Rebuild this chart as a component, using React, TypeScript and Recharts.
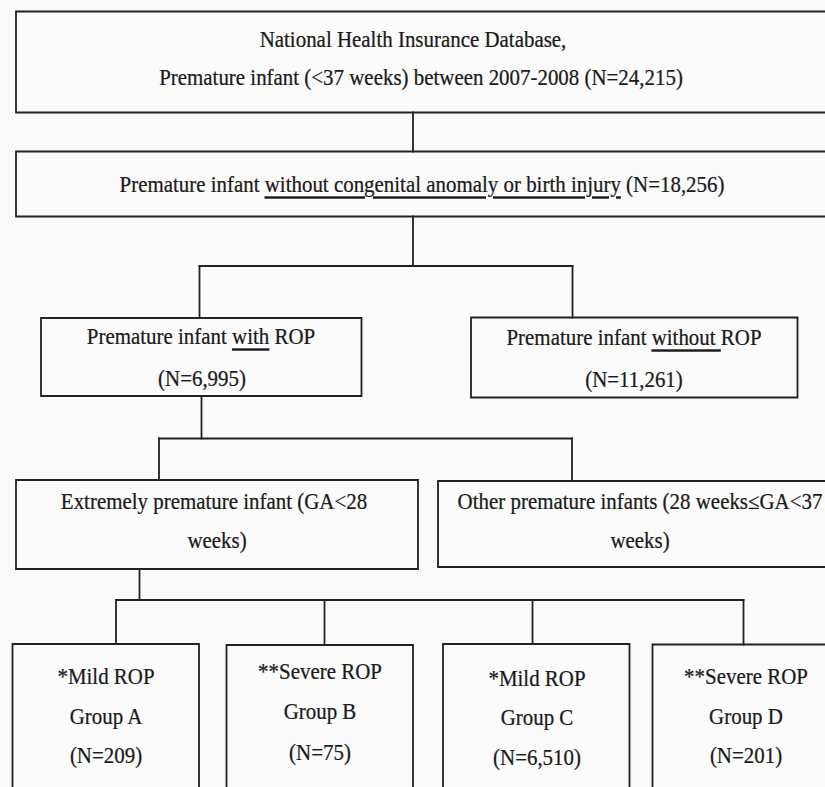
import React from "react";
import {
  ComposedChart,
  XAxis,
  YAxis,
  ReferenceArea,
  ReferenceLine,
  Scatter,
} from "recharts";

const W = 825;
const H = 787;
const INK = "#222222";
const PAPER = "#fbfbfb";
const FONT = "'Liberation Serif', 'Times New Roman', Times, serif";

// cohort nodes, top to bottom
const NODE_IDS = [
  "nhi", "noAnomaly", "withRop", "withoutRop", "extreme", "other",
  "groupA", "groupB", "groupC", "groupD",
];
const NODE_COUNTS = [24215, 18256, 6995, 11261, null, null, 209, 75, 6510, 201];
const GROUP_NAMES = ["A", "B", "C", "D"];
const ROP_GRADES = ["*Mild ROP", "**Severe ROP", "*Mild ROP", "**Severe ROP"];

type Seg = { t: string; u?: boolean };

const fmtN = (n: number | null) => `(N=${(n ?? 0).toLocaleString("en-US")})`;

const NODE_LINES: Seg[][][] = [
  [
    [{ t: "National Health Insurance Database," }],
    [{ t: `Premature infant (<37 weeks) between 2007-2008 ${fmtN(NODE_COUNTS[0])}` }],
  ],
  [
    [
      { t: "Premature infant " },
      { t: "without congenital anomaly or birth injury", u: true },
      { t: ` ${fmtN(NODE_COUNTS[1])}` },
    ],
  ],
  [
    [{ t: "Premature infant " }, { t: "with", u: true }, { t: " ROP" }],
    [{ t: fmtN(NODE_COUNTS[2]) }],
  ],
  [
    [{ t: "Premature infant " }, { t: "without ", u: true }, { t: "ROP" }],
    [{ t: fmtN(NODE_COUNTS[3]) }],
  ],
  [[{ t: "Extremely premature infant (GA<28" }], [{ t: "weeks)" }]],
  [[{ t: "Other premature infants (28 weeks≤GA<37" }], [{ t: "weeks)" }]],
  ...GROUP_NAMES.map((g, i) => [
    [{ t: ROP_GRADES[i] }],
    [{ t: `Group ${g}` }],
    [{ t: fmtN(NODE_COUNTS[6 + i]) }],
  ]),
];

// layout, in page pixels: box frame [x1, x2, y1, y2]
const FRAMES: [number, number, number, number][] = [
  [16, 834, 11.5, 112.5],
  [16, 834, 151.5, 216.5],
  [41, 361.5, 318, 396],
  [471, 797.5, 317.5, 397.5],
  [16, 418, 480, 569],
  [438, 845, 481, 567],
  [12.5, 199, 644, 800],
  [226.5, 413, 645, 800],
  [443, 629.5, 644, 800],
  [652.5, 840, 644.5, 800],
];

// text line anchors per node [cx, cy]
const LINE_POS: [number, number][][] = [
  [[413, 40], [421, 78]],
  [[422, 185]],
  [[201, 337], [202, 379]],
  [[634, 338], [634, 380]],
  [[214, 502], [217, 541]],
  [[640, 502], [640, 541]],
  [[106, 677], [106, 717], [106, 756]],
  [[320, 672], [320, 712], [320, 753]],
  [[537, 679], [537, 718], [537, 758]],
  [[746, 677], [746, 717], [746, 756]],
];

// elbow connectors: parent, trunk x, bus y, children with drop x
const EDGES = [
  { from: 0, x: 413, bus: null as number | null, to: [[1, 413]] },
  { from: 1, x: 413, bus: 266, to: [[2, 199.5], [3, 572.5]] },
  { from: 2, x: 201.5, bus: 438.5, to: [[4, 159], [5, 572]] },
  { from: 4, x: 139.5, bus: 600, to: [[6, 116], [7, 324.5], [8, 532.5], [9, 743.5]] },
];

type Pt = { x: number; y: number };
const SEGMENTS: [Pt, Pt][] = [];
EDGES.forEach((e) => {
  const top = FRAMES[e.from][3];
  if (e.bus === null) {
    const [child] = e.to[0];
    SEGMENTS.push([{ x: e.x, y: top }, { x: e.x, y: FRAMES[child][2] }]);
    return;
  }
  const bus = e.bus;
  SEGMENTS.push([{ x: e.x, y: top }, { x: e.x, y: bus }]);
  const xs = e.to.map(([, dx]) => dx);
  SEGMENTS.push([{ x: Math.min(...xs), y: bus }, { x: Math.max(...xs), y: bus }]);
  e.to.forEach(([child, dx]) => {
    SEGMENTS.push([{ x: dx, y: bus }, { x: dx, y: FRAMES[child][2] }]);
  });
});

const TEXT_ROWS = NODE_LINES.flatMap((lines, i) =>
  lines.map((segs, j) => ({
    x: LINE_POS[i][j][0],
    y: LINE_POS[i][j][1],
    segs,
  }))
);

// eslint-disable-next-line @typescript-eslint/no-explicit-any
function renderLine(props: any) {
  const { cx, cy, payload } = props;
  // slightly condensed serif, like the scanned figure
  return (
    <text
      transform={`translate(${cx} ${cy}) scale(0.93 1)`}
      x={0}
      y={0}
      textAnchor="middle"
      dominantBaseline="central"
      fontFamily={FONT}
      fontSize={22.5}
      fill="#1a1a1a"
      stroke="#1a1a1a"
      strokeWidth={0.25}
    >
      {(payload.segs as Seg[]).map((s, k) => (
        <tspan key={k} style={s.u ? { textDecoration: "underline" } : undefined}>
          {s.t}
        </tspan>
      ))}
    </text>
  );
}

export default function App() {
  return (
    <div
      style={{
        position: "absolute",
        left: 0,
        top: 0,
        width: W,
        height: H,
        background: PAPER,
        overflow: "hidden",
      }}
    >
      <ComposedChart width={W} height={H} margin={{ top: 0, right: 0, bottom: 0, left: 0 }}>
        <XAxis type="number" dataKey="x" domain={[0, W]} allowDataOverflow hide />
        <YAxis type="number" dataKey="y" domain={[0, H]} allowDataOverflow reversed hide />
        {FRAMES.map(([x1, x2, y1, y2], i) => (
          <ReferenceArea
            key={NODE_IDS[i]}
            x1={x1}
            x2={x2}
            y1={y1}
            y2={y2}
            fill="none"
            stroke={INK}
            strokeWidth={1.8}
            ifOverflow="visible"
          />
        ))}
        {SEGMENTS.map((s, i) => (
          <ReferenceLine
            key={i}
            segment={s}
            stroke={INK}
            strokeWidth={1.8}
            strokeLinecap="square"
            ifOverflow="visible"
          />
        ))}
        <Scatter data={TEXT_ROWS} dataKey="y" isAnimationActive={false} shape={renderLine} />
      </ComposedChart>
    </div>
  );
}
